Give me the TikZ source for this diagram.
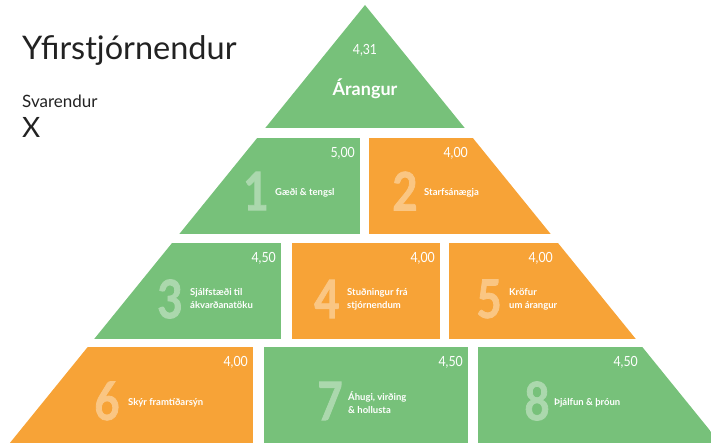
\documentclass[tikz,border=0pt]{standalone}
\usepackage{fontspec}
\setmainfont{Lato}
\newfontfamily\condfont[FakeStretch=0.88]{Lato}
\newfontfamily\numfont[FakeStretch=0.82,FakeBold=1.5]{Lato}
\definecolor{pgreen}{RGB}{119,193,122}
\definecolor{porange}{RGB}{247,163,55}
\definecolor{titlegray}{RGB}{34,34,34}
\tikzset{
  valtext/.style={anchor=east,text=white,inner sep=0pt,font=\condfont\fontsize{14}{14}\selectfont},
  bignum/.style={inner sep=0pt,font=\numfont\bfseries\fontsize{53}{53}\selectfont},
  gnum/.style={bignum,text=pgreen!62!white},
  onum/.style={bignum,text=porange!62!white},
  lbltext/.style={anchor=west,text=white,inner sep=0pt,align=left,font=\bfseries\fontsize{9.5}{13}\selectfont},
  headtext/.style={anchor=base west,inner sep=0pt,text=titlegray}
}
\begin{document}
\begin{tikzpicture}[x=1pt,y=-1pt]
\useasboundingbox (0,0) rectangle (711,443);
% pyramid, cut into rows and blocks
\begin{scope}
\clip (365,5) -- (725,449) -- (5,449) -- cycle;
\fill[pgreen] (0,0) rectangle (711,128);
\fill[pgreen] (0,138) rectangle (360,234);
\fill[porange] (369,138) rectangle (711,234);
\fill[pgreen] (0,243) rectangle (281,339);
\fill[porange] (292,243) rectangle (440,339);
\fill[porange] (449,243) rectangle (711,339);
\fill[porange] (0,347) rectangle (253,449);
\fill[pgreen] (264,347) rectangle (468,449);
\fill[pgreen] (478,347) rectangle (711,449);
\end{scope}
% heading
\node[headtext,font=\fontsize{32.5}{32}\selectfont] (title) at (22,60) {Yfirstjórnendur};
\node[headtext,font=\fontsize{17}{17}\selectfont] (resp) at (22,108) {Svarendur};
\node[headtext,font=\fontsize{28}{28}\selectfont] (respn) at (22,138) {X};
% top
\node[valtext,anchor=center] (top-val) at (365,50) {4,31};
\node[text=white,inner sep=0pt,font=\bfseries\fontsize{18}{18}\selectfont] (top-lbl) at (365,89) {Árangur};
% row 1
\node[valtext] (b1-val) at (355,153) {5,00};
\node[gnum] (b1-num) at (256,191) {1};
\node[lbltext] (b1-lbl) at (275,193) {Gæði \& tengsl};
\node[valtext] (b2-val) at (468,153) {4,00};
\node[onum] (b2-num) at (405,191) {2};
\node[lbltext] (b2-lbl) at (424,193) {Starfsánægja};
% row 2
\node[valtext] (b3-val) at (276,258) {4,50};
\node[gnum] (b3-num) at (170,299) {3};
\node[lbltext] (b3-lbl) at (190,299) {Sjálfstæði til\\ákvarðanatöku};
\node[valtext] (b4-val) at (435,258) {4,00};
\node[onum] (b4-num) at (327,299) {4};
\node[lbltext] (b4-lbl) at (347,299) {Stuðningur frá\\stjórnendum};
\node[valtext] (b5-val) at (553,258) {4,00};
\node[onum] (b5-num) at (489,299) {5};
\node[lbltext] (b5-lbl) at (509,299) {Kröfur\\um árangur};
% row 3
\node[valtext] (b6-val) at (248,362) {4,00};
\node[onum] (b6-num) at (107,401) {6};
\node[lbltext] (b6-lbl) at (128,403) {Skýr framtíðarsýn};
\node[valtext] (b7-val) at (463,362) {4,50};
\node[gnum] (b7-num) at (330,401) {7};
\node[lbltext] (b7-lbl) at (348,403) {Áhugi, virðing\\\& hollusta};
\node[valtext] (b8-val) at (638,362) {4,50};
\node[gnum] (b8-num) at (537,401) {8};
\node[lbltext] (b8-lbl) at (554,403) {Þjálfun \& þróun};
\end{tikzpicture}
\end{document}
